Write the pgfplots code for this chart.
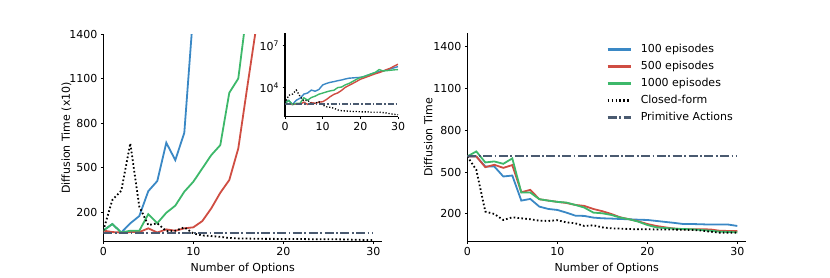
\documentclass[border=0pt]{standalone}
\usepackage{fontspec}
\setmainfont{DejaVu Sans}
\usepackage{pgfplots}
\usepackage{pgfplotstable}
\pgfplotsset{compat=1.18}
\definecolor{cblue}{HTML}{3A88C5}
\definecolor{cred}{HTML}{CF4D42}
\definecolor{cgreen}{HTML}{3DB86A}
\definecolor{cslate}{HTML}{4A5A70}

% raw diffusion times (left environment)
\pgfplotstableread{
x b r g c
0 750 750 750 750
1 1190 650 1190 2810
2 620 620 620 3440
3 1240 650 740 6630
4 1730 650 740 2360
5 3410 900 1860 1120
6 4090 620 1250 1240
7 6670 830 1950 720
8 5500 740 2430 740
9 7340 900 3370 970
10 15500 970 4040 560
11 20000 1390 4940 420
12 24000 2250 5840 380
13 27000 3300 6510 330
14 31600 4160 10040 250
15 35500 6290 11000 220
16 41700 10440 15800 210
17 47900 14500 20000 200
18 50100 20000 28000 190
19 52500 28000 40000 190
20 55000 40000 52500 180
21 63000 50000 63000 180
22 79400 63000 79400 180
23 100000 79400 100000 170
24 120000 100000 126000 170
25 141000 120000 200000 170
26 158000 151000 158000 160
27 190000 200000 166000 150
28 224000 251000 178000 130
29 269000 355000 190000 120
30 324000 479000 200000 110
}\leftdata

\pgfplotstableread{
x b r g c
0 612 612 612 612
1 612 612 648 516
2 540 535 569 216
3 540 552 576 199
4 468 530 559 156
5 475 550 598 175
6 295 355 353 168
7 307 372 353 161
8 252 305 305 151
9 235 295 295 149
10 228 286 286 154
11 209 278 281 139
12 187 264 264 132
13 185 257 245 113
14 173 235 209 118
15 168 219 204 103
16 166 199 192 96
17 163 175 173 94
18 161 161 161 91
19 158 146 144 89
20 156 127 120 89
21 149 113 103 88
22 142 103 98 88
23 135 94 94 87
24 127 89 91 86
25 127 89 89 84
26 125 89 84 80
27 123 88 79 72
28 123 79 72 65
29 123 77 70 65
30 113 77 67 65
}\rightdata

\pgfplotsset{
  mystyle/.style={
    scale only axis,
    axis x line*=bottom, axis y line*=left,
    axis line style={line width=1.3pt, black},
    tick style={black, line width=0.9pt},
    major tick length=2.5pt,
    tick align=outside,
    font=\fontsize{11}{13}\selectfont,
    /pgf/number format/assume math mode=true,
    /pgf/number format/1000 sep={},
    ylabel shift=-6pt,
  },
}

\begin{document}
\begin{tikzpicture}
\path[use as bounding box] (0,0) rectangle (830pt,277pt);

% ---------- left main axis ----------
\begin{axis}[mystyle,
  at={(103.3pt,35.3pt)}, anchor=south west,
  width=279pt, height=207.7pt,
  xmin=0, xmax=31, ymin=0, ymax=1400,
  xtick={0,10,20,30}, ytick={200,500,800,1100,1400},
  xlabel={Number of Options},
  ylabel={Diffusion Time (x10)},
  ylabel shift=-9pt,
]
\addplot[cblue, line width=1.8pt] table[x=x, y expr=\thisrow{b}/10] {\leftdata};
\addplot[cred, line width=1.8pt] table[x=x, y expr=\thisrow{r}/10] {\leftdata};
\addplot[cgreen, line width=1.8pt] table[x=x, y expr=\thisrow{g}/10] {\leftdata};
\addplot[black, line width=1.8pt, dash pattern=on 1.6pt off 2.3pt] table[x=x, y expr=\thisrow{c}/10] {\leftdata};
\addplot[cslate, line width=2pt, dash pattern=on 9pt off 2.5pt on 1.8pt off 2.5pt] coordinates {(0,62) (30,62)};
\end{axis}

% ---------- inset ----------
\begin{axis}[mystyle,
  at={(285pt,160.3pt)}, anchor=south west,
  width=113pt, height=83.4pt,
  xmin=0, xmax=30, ymode=log, ymin=81, ymax=8.1e7,
  xtick={0,10,20,30},
  ytick={1e4,1e7}, yticklabels={10\textsuperscript{4},10\textsuperscript{7}},
  yminorticks=false,
]
\addplot[cblue, line width=1.4pt] table[x=x, y=b] {\leftdata};
\addplot[cred, line width=1.4pt] table[x=x, y=r] {\leftdata};
\addplot[cgreen, line width=1.4pt] table[x=x, y=g] {\leftdata};
\addplot[black, line width=1.3pt, dash pattern=on 1.2pt off 1.8pt] table[x=x, y=c] {\leftdata};
\addplot[cslate, line width=1.9pt, dash pattern=on 6pt off 2pt on 1.4pt off 2pt] coordinates {(0,620) (30,620)};
\end{axis}

% ---------- right axis ----------
\begin{axis}[mystyle,
  at={(467.3pt,35.3pt)}, anchor=south west,
  width=279pt, height=209pt,
  xmin=0, xmax=31, ymin=0, ymax=1500,
  xtick={0,10,20,30}, ytick={200,500,800,1100,1400},
  xlabel={Number of Options},
  ylabel={Diffusion Time},
  legend image code/.code={\draw[#1, line width=2.1pt] (0pt,0pt) -- (23pt,0pt);},
  legend style={at={(0.488,0.96)}, anchor=north west, draw=none, fill=none,
    row sep=4.5pt, font=\fontsize{11}{13}\selectfont,
    nodes={inner sep=1pt, text height=8pt, text depth=2.5pt},
    /tikz/every odd column/.append style={column sep=8pt}},
  legend cell align=left,
]
\addplot[cblue, line width=1.8pt] table[x=x, y=b] {\rightdata};
\addlegendentry{100 episodes}
\addplot[cred, line width=1.8pt] table[x=x, y=r] {\rightdata};
\addlegendentry{500 episodes}
\addplot[cgreen, line width=1.8pt] table[x=x, y=g] {\rightdata};
\addlegendentry{1000 episodes}
\addplot[black, line width=1.8pt, dash pattern=on 1.6pt off 2.3pt] table[x=x, y=c] {\rightdata};
\addlegendentry{Closed-form}
\addplot[cslate, line width=2pt, dash pattern=on 9pt off 2.5pt on 1.8pt off 2.5pt] coordinates {(0,612) (30,612)};
\addlegendentry{Primitive Actions}
\end{axis}
\end{tikzpicture}
\end{document}
